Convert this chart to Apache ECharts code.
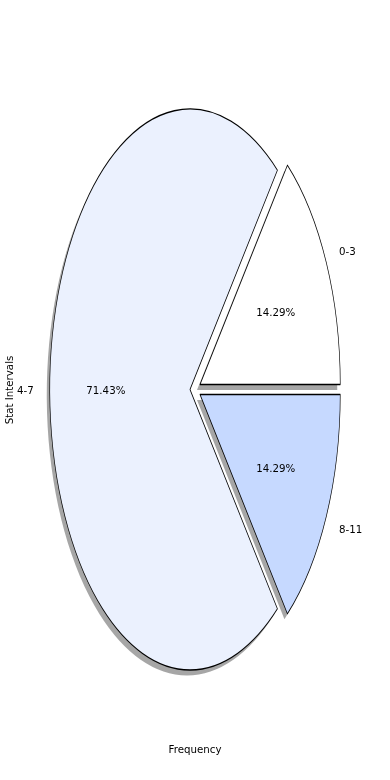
<!DOCTYPE html>
<html>
<head>
<meta charset="utf-8">
<script src="https://cdn.jsdelivr.net/npm/echarts@6/dist/echarts.min.js"></script>
<style>
html,body{margin:0;padding:0;background:#fff;}
#wrap{position:relative;width:390px;height:780px;overflow:hidden;background:#fff;}
#pie{position:absolute;left:-200px;top:0;width:780px;height:780px;transform:scaleX(0.5);transform-origin:390px 389.5px;}
#over{position:absolute;left:0;top:0;width:390px;height:780px;}
</style>
</head>
<body>
<div id="wrap"><div id="pie"></div><div id="over"></div></div>
<script>
// Data
const categories = ['0-3', '4-7', '8-11'];
const values = [1, 5, 1];
const xLabel = 'Frequency';
const yLabel = 'Stat Intervals';

// Styling / layout
const colors = ['#ffffff', '#ebf1fe', '#c6d9ff'];
const shiftsPx = [[10, -5], [0, 0], [10, 5]]; // explode offsets on screen
const shadowPx = [-3, 5.5];
const SCALE_X = 0.5;
const CX = 190, CY = 389.5, RY = 280.5, RX = RY * SCALE_X;
const DIV_CX = 390;

const total = values.reduce((a, b) => a + b, 0);

function pieSeries(k, isShadow) {
  const sx = shiftsPx[k][0] + (isShadow ? shadowPx[0] : 0);
  const sy = shiftsPx[k][1] + (isShadow ? shadowPx[1] : 0);
  return {
    type: 'pie',
    clockwise: false,
    startAngle: 0,
    radius: [0, RY],
    center: [DIV_CX + sx / SCALE_X, CY + sy],
    silent: true,
    animation: false,
    label: { show: false },
    labelLine: { show: false },
    emphasis: { disabled: true },
    z: isShadow ? 1 : 2,
    data: categories.map((c, i) => ({
      name: c,
      value: values[i],
      itemStyle: i === k
        ? (isShadow
            ? { color: 'rgba(77,77,77,0.5)', borderWidth: 0 }
            : { color: colors[i], borderColor: '#000', borderWidth: 1.3 })
        : { color: 'rgba(0,0,0,0)', borderWidth: 0 }
    }))
  };
}

const series = [];
categories.forEach((c, k) => series.push(pieSeries(k, true)));
categories.forEach((c, k) => series.push(pieSeries(k, false)));

const pie = echarts.init(document.getElementById('pie'), null, { renderer: 'canvas' });
pie.setOption({ animation: false, series });

// Labels overlay
const graphics = [];
let start = 0;
const font = '10.25px "DejaVu Sans"';
values.forEach((v, i) => {
  const span = 360 * v / total;
  const mid = (start + span / 2) * Math.PI / 180;
  start += span;
  const cx = CX + shiftsPx[i][0], cy = CY + shiftsPx[i][1] + 1.5;
  const c = Math.cos(mid), s = Math.sin(mid);
  graphics.push({
    type: 'text', x: cx + 1.1 * RX * c + (c > 0 ? 0 : -2), y: cy - 1.1 * RY * s,
    style: { text: categories[i], font, fill: '#000',
      align: c > 0 ? 'left' : 'right', verticalAlign: 'middle' }
  });
  graphics.push({
    type: 'text', x: cx + 0.6 * RX * c, y: cy - 0.6 * RY * s,
    style: { text: (100 * v / total).toFixed(2) + '%', font, fill: '#000',
      align: 'center', verticalAlign: 'middle' }
  });
});
graphics.push({
  type: 'text', x: 195, y: 750,
  style: { text: xLabel, font, fill: '#000', align: 'center', verticalAlign: 'middle' }
});
graphics.push({
  type: 'text', x: 10, y: 390, rotation: Math.PI / 2,
  style: { text: yLabel, font, fill: '#000', align: 'center', verticalAlign: 'middle' }
});

const over = echarts.init(document.getElementById('over'), null, { renderer: 'canvas' });
over.setOption({ animation: false, graphic: graphics });
</script>
</body>
</html>
